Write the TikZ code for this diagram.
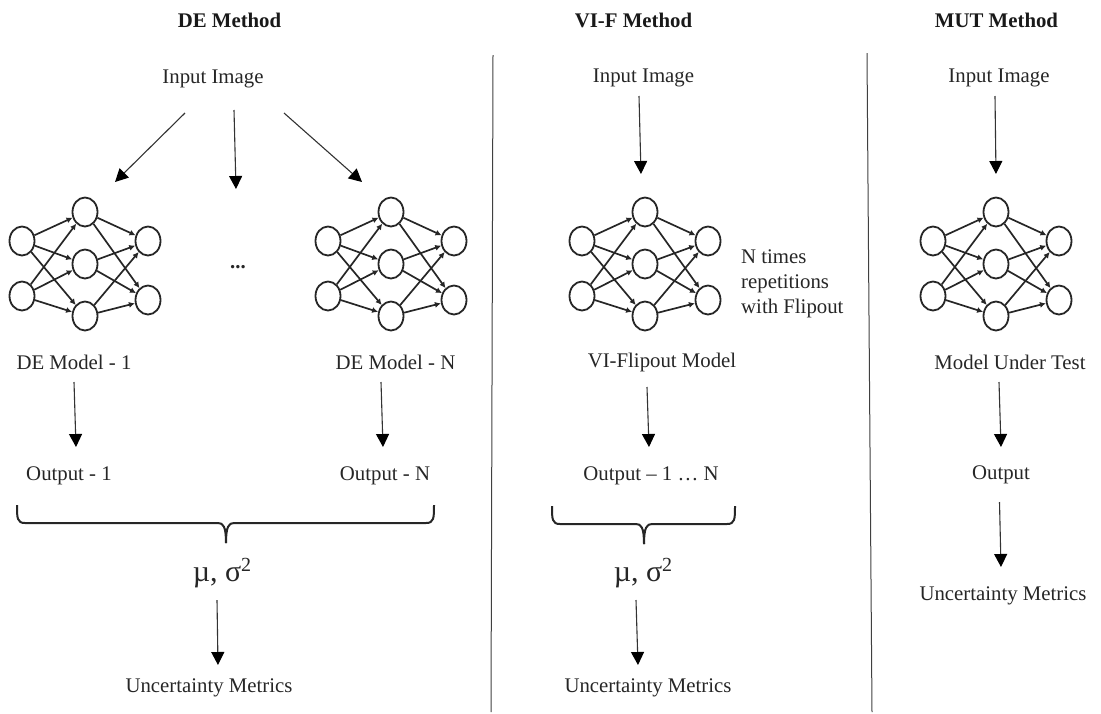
\documentclass[tikz,border=0pt]{standalone}
\usepackage{fontspec}
\setmainfont{Liberation Serif}
\usetikzlibrary{arrows.meta,shapes.geometric}
\tikzset{
  lbl/.style={inner sep=0pt,text=black!85,font=\fontsize{20.8}{25}\selectfont},
  ttl/.style={inner sep=0pt,text=black!90,font=\fontsize{20.8}{25}\selectfont\bfseries},
  big/.style={inner sep=0pt,text=black!85,font=\fontsize{30}{34}\selectfont},
  neuron/.style={draw=black!85,line width=1.8pt,ellipse,minimum width=25pt,minimum height=29pt,inner sep=0pt,fill=white},
  syn/.style={draw=black!85,line width=1.7pt,-{Latex[length=6pt,width=6pt]}},
  flow/.style={draw=black!80,line width=1.1pt,-{Triangle[length=13pt,width=13pt,color=black]}},
  rule/.style={draw=black!75,line width=1pt},
  brace/.style={draw=black!85,line width=2pt}
}
\newcommand{\nnet}[2]{%
  \begin{scope}[shift={(#2,0)}]
    \node[neuron] (#1i1) at (22,241) {};
    \node[neuron] (#1i2) at (22,296) {};
    \node[neuron] (#1m1) at (85,212) {};
    \node[neuron] (#1m2) at (85,264) {};
    \node[neuron] (#1m3) at (85,316) {};
    \node[neuron] (#1o1) at (148,241) {};
    \node[neuron] (#1o2) at (148,300) {};
  \end{scope}
  \foreach \a in {i1,i2}{\foreach \b in {m1,m2,m3}{\draw[syn] (#1\a) -- (#1\b);}}
  \foreach \a in {m1,m2,m3}{\foreach \b in {o1,o2}{\draw[syn] (#1\a) -- (#1\b);}}
}
\newcommand{\musig}{µ, σ\raisebox{10pt}{\fontsize{20}{21}\selectfont 2}}
\begin{document}
\begin{tikzpicture}[x=1pt,y=-1pt]
\useasboundingbox (0,0) rectangle (1101,713);
% titles
\node[ttl] (t1) at (229.5,20) {DE Method};
\node[ttl] (t2) at (633.5,20) {VI-F Method};
\node[ttl] (t3) at (996.5,20) {MUT Method};
% separators
\coordinate (s1a) at (493,55); \coordinate (s1b) at (491,712);
\coordinate (s2a) at (867,53); \coordinate (s2b) at (872,712);
\draw[rule] (s1a) -- (s1b);
\draw[rule] (s2a) -- (s2b);
% nets
\nnet{a}{0}
\nnet{b}{306}
\nnet{c}{560}
\nnet{d}{911}
% labels
\node[lbl] (in1) at (213,79) {Input Image};
\node[lbl] (in2) at (643.5,78) {Input Image};
\node[lbl] (in3) at (999,78) {Input Image};
\node[lbl] (dots) at (238,267) {\textbf{...}};
\node[lbl] (ma) at (74,362) {DE Model - 1};
\node[lbl] (mb) at (395.5,362) {DE Model - N};
\node[lbl] (mc) at (662,362) {VI-Flipout Model};
\node[lbl] (md) at (1010,362) {Model Under Test};
\node[lbl,align=left,anchor=west] (rep) at (741,284) {N times\\repetitions\\with Flipout};
\node[lbl] (oa) at (69,476) {Output - 1};
\node[lbl] (ob) at (385,476) {Output - N};
\node[lbl] (oc) at (651,476) {Output – 1 … N};
\node[lbl] (od) at (1001,475) {Output};
\node[big] (mua) at (222,573) {\musig};
\node[big] (muc) at (643,573) {\musig};
\node[lbl] (ua) at (209,688) {Uncertainty Metrics};
\node[lbl] (uc) at (648,688) {Uncertainty Metrics};
\node[lbl] (ud) at (1003,596) {Uncertainty Metrics};
% flow arrows
\coordinate (f1) at (185,113); \coordinate (f1e) at (115,182);
\coordinate (f2) at (234,110); \coordinate (f2e) at (236,189);
\coordinate (f3) at (284,113); \coordinate (f3e) at (362,182);
\draw[flow] (f1) -- (f1e);
\draw[flow] (f2) -- (f2e);
\draw[flow] (f3) -- (f3e);
\coordinate (f4) at (639,96); \coordinate (f4e) at (641,174);
\coordinate (f5) at (995,96); \coordinate (f5e) at (996,174);
\draw[flow] (f4) -- (f4e);
\draw[flow] (f5) -- (f5e);
\coordinate (g1) at (74,382); \coordinate (g1e) at (76,447);
\coordinate (g2) at (381,382); \coordinate (g2e) at (383,447);
\coordinate (g3) at (647,387); \coordinate (g3e) at (649,447);
\coordinate (g4) at (999,382); \coordinate (g4e) at (1001,447);
\draw[flow] (g1) -- (g1e);
\draw[flow] (g2) -- (g2e);
\draw[flow] (g3) -- (g3e);
\draw[flow] (g4) -- (g4e);
\coordinate (h1) at (999.5,502); \coordinate (h1e) at (1001,567);
\draw[flow] (h1) -- (h1e);
\coordinate (h2) at (217,600); \coordinate (h2e) at (218,665);
\coordinate (h3) at (636,600); \coordinate (h3e) at (638,665);
\draw[flow] (h2) -- (h2e);
\draw[flow] (h3) -- (h3e);
% braces
\draw[brace] (17,505) .. controls (17,518) and (17,523) .. (25,523) -- (218,523)
  .. controls (223,523) and (226,526) .. (226,543);
\draw[brace] (434,505) .. controls (434,518) and (434,523) .. (426,523) -- (234,523)
  .. controls (229,523) and (226,526) .. (226,543);
\draw[brace] (552,506) .. controls (552,519) and (552,524) .. (560,524) -- (636,524)
  .. controls (641,524) and (644,527) .. (644,544);
\draw[brace] (735,506) .. controls (735,519) and (735,524) .. (727,524) -- (652,524)
  .. controls (647,524) and (644,527) .. (644,544);
\end{tikzpicture}
\end{document}
